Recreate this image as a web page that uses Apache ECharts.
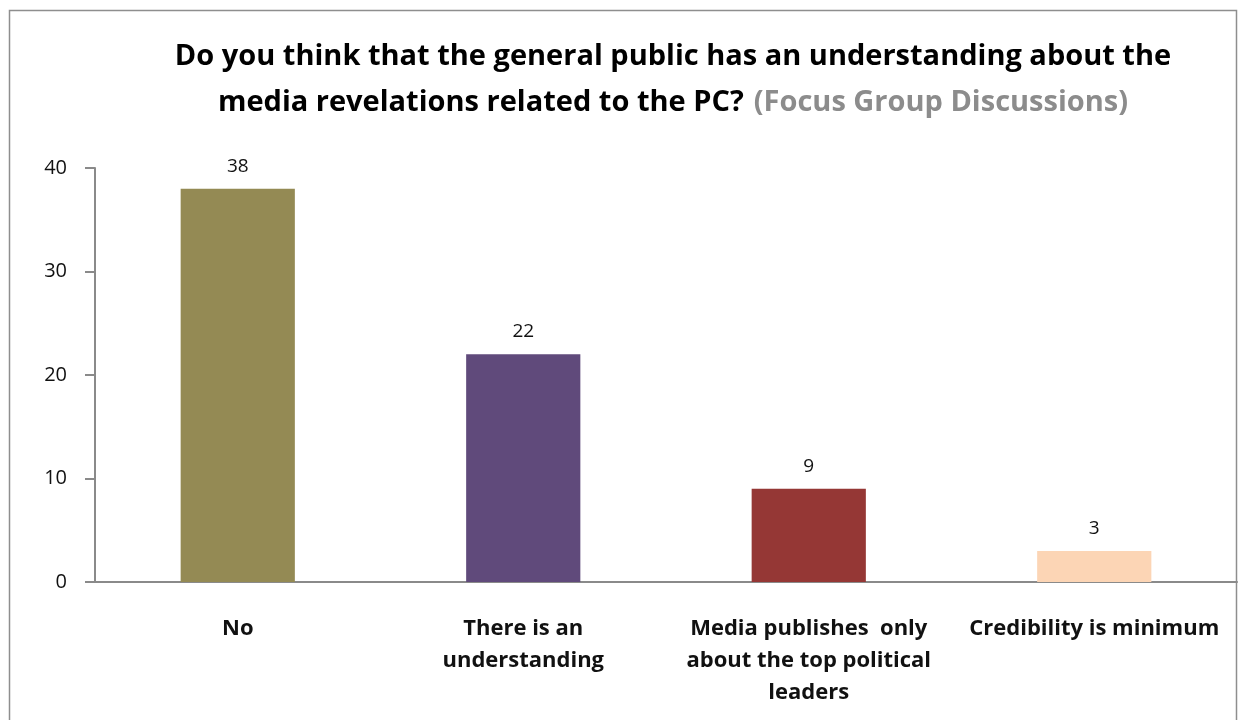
<!DOCTYPE html>
<html>
<head>
<meta charset="utf-8">
<script src="https://cdn.jsdelivr.net/npm/echarts@6/dist/echarts.min.js"></script>
<style>
  html, body { margin: 0; padding: 0; background: #fff; }
  #chart { width: 1239px; height: 720px; }
</style>
</head>
<body>
<div id="chart"></div>
<script>
// Survey responses from the focus group discussions
const categories = [
  'No',
  'There is an\nunderstanding',
  'Media publishes  only\nabout the top political\nleaders',
  'Credibility is minimum'
];
const counts = [38, 22, 9, 3];
const barColors = ['#948A54', '#604A7B', '#953735', '#FCD5B5'];
const yTicks = { min: 0, max: 40, interval: 10 };

const FONT = '"Open Sans", Lato, sans-serif';

const chart = echarts.init(document.getElementById('chart'), null, { renderer: 'canvas' });

chart.setOption({
  backgroundColor: '#ffffff',
  animation: false,
  graphic: [{
    type: 'rect',
    shape: { x: 9.5, y: 10.5, width: 1227, height: 760 },
    style: { fill: 'none', stroke: '#8e8e8e', lineWidth: 1.5 },
    silent: true
  }],
  title: {
    left: 668,
    textAlign: 'center',
    top: 29,
    text: '{b|Do you think that the general public has an understanding about the}\n{b|media revelations related to the PC?}  {g|(Focus Group Discussions)}',
    textStyle: {
      rich: {
        b: { fontFamily: FONT, fontSize: 29, fontWeight: 'bold', color: '#000', lineHeight: 46 },
        g: { fontFamily: FONT, fontSize: 29, fontWeight: 'bold', color: '#8c8c8c', lineHeight: 46 }
      }
    }
  },
  grid: { left: 95, right: 2, top: 168, bottom: 138, containLabel: false },
  xAxis: {
    type: 'category',
    data: categories,
    axisLine: { show: true, lineStyle: { color: '#8a8a8a', width: 2 } },
    axisTick: { show: false },
    axisLabel: {
      interval: 0,
      margin: 31,
      fontFamily: FONT,
      fontSize: 22,
      fontWeight: 'bold',
      color: '#111',
      lineHeight: 32
    }
  },
  yAxis: {
    type: 'value',
    min: yTicks.min,
    max: yTicks.max,
    interval: yTicks.interval,
    splitLine: { show: false },
    axisLine: { show: true, lineStyle: { color: '#8a8a8a', width: 2 } },
    axisTick: { show: true, length: 10, lineStyle: { color: '#8a8a8a', width: 2 } },
    axisLabel: {
      margin: 28,
      fontFamily: FONT,
      fontSize: 20,
      color: '#111'
    }
  },
  series: [{
    type: 'bar',
    data: counts.map((v, i) => ({ value: v, itemStyle: { color: barColors[i] } })),
    barWidth: '40%',
    label: {
      show: true,
      position: 'top',
      distance: 13,
      fontFamily: FONT,
      fontSize: 19,
      color: '#111'
    }
  }]
});
</script>
</body>
</html>
